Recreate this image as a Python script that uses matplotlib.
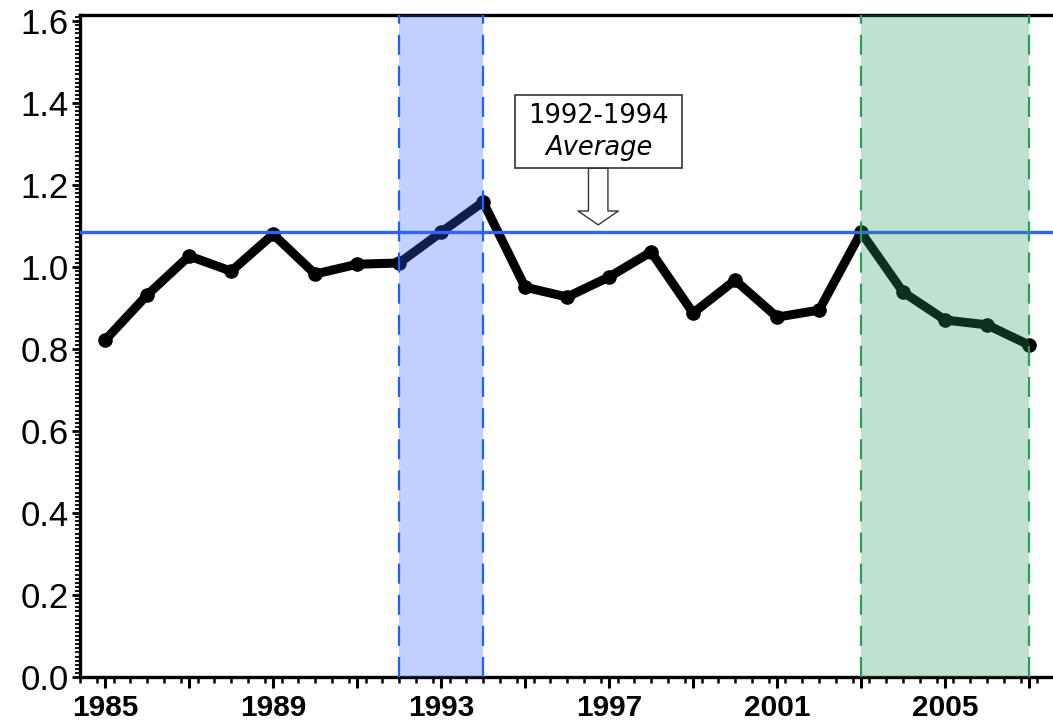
import matplotlib
matplotlib.use("Agg")
import matplotlib.pyplot as plt
from matplotlib.ticker import FixedLocator, MultipleLocator
from matplotlib.patches import Rectangle

years = list(range(1985, 2008))
values = [0.822, 0.932, 1.027, 0.990, 1.080, 0.983, 1.007, 1.010, 1.085, 1.159,
          0.951, 0.927, 0.976, 1.037, 0.888, 0.968, 0.878, 0.895, 1.085, 0.939,
          0.871, 0.859, 0.810]
avg_value = 1.085
blue_span = (1992, 1994)
green_span = (2003, 2007)
x_major = list(range(1985, 2008, 2))
x_labels = ["1985", "", "1989", "", "1993", "", "1997", "", "2001", "", "2005", ""]
y_ticks = [0.0, 0.2, 0.4, 0.6, 0.8, 1.0, 1.2, 1.4, 1.6]
y_labels = ["0.0", "0.2", "0.4", "0.6", "0.8", "1.0", "1.2", "1.4", "1.6"]
box_line1 = "1992-1994"
box_line2 = "Average"

fig = plt.figure(figsize=(10.53, 7.26), dpi=100)
ax = fig.add_axes([80 / 1053, 1 - 677 / 726, 1 - 80 / 1053, (677 - 15) / 726])

ax.plot(years, values, color="black", lw=6.5, marker="o", ms=9.5,
        solid_joinstyle="round", solid_capstyle="round", zorder=2)
ax.axhline(avg_value, color="#2f62ff", lw=2.4, zorder=3)

ax.axvspan(*blue_span, facecolor="#3366ff", alpha=0.3, edgecolor="none", zorder=4)
ax.axvspan(*green_span, facecolor="#2e9e60", alpha=0.3, edgecolor="none", zorder=4)
for xv in blue_span:
    ax.axvline(xv, color="#2060ff", lw=1.6, ls=(0, (9, 5)), zorder=5)
for xv in green_span:
    ax.axvline(xv, color="#2a9d5c", lw=1.6, ls=(0, (9, 5)), zorder=5)

ax.set_xlim(1984.40, 2007.57)
ax.set_ylim(0.0, 1.615)

# annotation box and hollow arrow
ax.add_patch(Rectangle((1994.76, 1.241), 3.98, 0.179, facecolor="white",
                       edgecolor="#333333", lw=1.2, zorder=6))
ax.text(1996.75, 1.368, box_line1, ha="center", va="center", fontsize=18.5,
        family="DejaVu Sans", zorder=7)
ax.text(1996.75, 1.291, box_line2, ha="center", va="center", fontsize=18.5,
        style="italic", family="DejaVu Sans", zorder=7)
ax.annotate("", xy=(1996.74, 1.103), xytext=(1996.74, 1.241),
            arrowprops=dict(arrowstyle="simple,head_length=10,head_width=29,tail_width=14",
                            mutation_scale=1, fc="white", ec="#333333", lw=1.0,
                            shrinkA=0, shrinkB=0),
            zorder=7)

ax.xaxis.set_major_locator(FixedLocator(x_major))
ax.set_xticklabels(x_labels, fontsize=21.5, fontweight="bold", family="Liberation Sans")
ax.xaxis.set_minor_locator(MultipleLocator(0.4))
ax.set_yticks(y_ticks)
ax.set_yticklabels(y_labels, fontsize=25, family="Liberation Sans")
ax.yaxis.set_minor_locator(MultipleLocator(0.01))

ax.tick_params(axis="x", which="major", direction="out", length=8, width=2.2, pad=4)
ax.tick_params(axis="x", which="minor", direction="out", length=4, width=1.8)
ax.tick_params(axis="y", which="major", direction="out", length=6, width=2.0, pad=2)
ax.tick_params(axis="y", which="minor", direction="out", length=3.5, width=1.3)

for side in ["left", "bottom", "top"]:
    ax.spines[side].set_linewidth(2.4)
ax.spines["right"].set_visible(False)

fig.savefig("out.png", dpi=100)
